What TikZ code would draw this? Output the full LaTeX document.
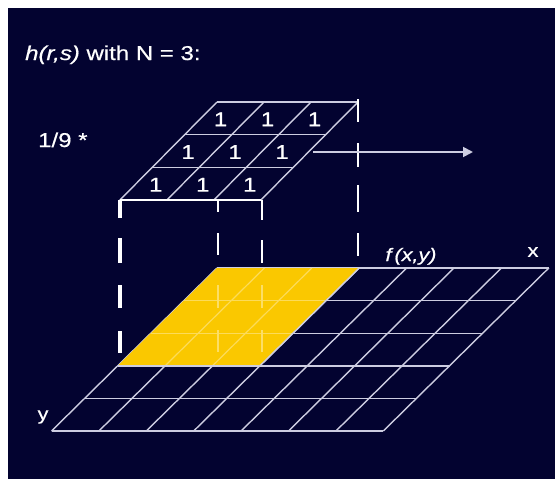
\documentclass[tikz,border=0pt]{standalone}
\usepackage{fontspec}
\setmainfont{Liberation Sans}[FakeStretch=1.2, FakeBold=0.6]
\usepackage{tikz}
\usetikzlibrary{arrows.meta, positioning}
\definecolor{slidebg}{RGB}{3,3,48}
\definecolor{gridgray}{RGB}{205,205,225}
\definecolor{maskyellow}{RGB}{250,200,0}
\begin{document}
\begin{tikzpicture}[
    x=1pt, y=-1pt,
    lbl/.style={text=white, inner sep=0pt, font=\fontsize{20}{24}\selectfont},
    onecell/.style={text=white, inner sep=0pt, font=\fontsize{20}{24}\selectfont},
    gridline/.style={draw=gridgray, line width=1.4pt},
    maskline/.style={draw=maskyellow!65!white, line width=1.2pt},
    leg/.style={draw=white, line width=2.2pt},
    faintleg/.style={draw=maskyellow!60!white, line width=2pt}
]
    \useasboundingbox (0,0) rectangle (555,479);
    \fill [white] (0,0) rectangle (555,479);
    \fill [slidebg] (8,8) rectangle (555,479);

    \begin{scope}[shift={(217,268)}, x={(47.4pt,0pt)}, y={(-33.1pt,-32.6pt)}]
        \foreach \r in {0,...,5} \draw [gridline] (0,\r) -- (7,\r);
        \foreach \c in {0,...,7} \draw [gridline] (\c,0) -- (\c,5);
        \fill [maskyellow] (0,0) -- (3,0) -- (3,3) -- (0,3) -- cycle;
        \foreach \i in {1,2} {
            \draw [maskline] (0,\i) -- (3,\i);
            \draw [maskline] (\i,0) -- (\i,3);
        }
        \draw [gridline] (3,0) -- (3,3) -- (0,3);
    \end{scope}

    \begin{scope}[shift={(217,102)}, x={(47pt,0pt)}, y={(-32.4pt,-32.7pt)}]
        \foreach \r in {0,...,2} \draw [gridline] (0,\r) -- (3,\r);
        \foreach \c in {0,...,3} \draw [gridline] (\c,0) -- (\c,3);
        \draw [leg, line width=2.6pt] (0,3) -- (3,3);
        \foreach \r in {0,...,2}
            \foreach \c in {0,...,2}
                \node [onecell] (k\r\c) at (\c+0.44,\r+0.53) {1};
    \end{scope}

    \foreach \a/\b in {200/218, 238/263, 285/308, 331/353}
        \draw [leg, line width=3.5pt] (120,\a) -- (120,\b);
    \foreach \a/\b in {200/212, 233/255}
        \draw [leg] (218,\a) -- (218,\b);
    \foreach \a/\b in {200/220, 240/263}
        \draw [leg] (262,\a) -- (262,\b);
    \foreach \a/\b in {285/308, 330/352} {
        \draw [faintleg] (218,\a) -- (218,\b);
        \draw [faintleg] (262,\a) -- (262,\b);
    }
    \foreach \a/\b in {99/122, 143/167, 185/212, 233/256}
        \draw [leg, line width=1.8pt] (358,\a) -- (358,\b);

    \coordinate (arrS) at (313,152);
    \coordinate (arrE) at (473,152);
    \draw [gridline, line width=1.8pt, -{Triangle[length=10pt, width=10pt]}] (arrS) -- (arrE);

    \node [lbl, anchor=base west] (title) at (25,60) {\textit{h(r,s)} with N = 3:};
    \node [lbl, anchor=base west] (scale) at (38,147) {1/9 *};
    \node [lbl, anchor=base, font=\fontsize{18}{22}\selectfont] (fxy) at (411,261) {\textit{f\,(x,y)}};
    \node [lbl, font=\fontsize{18}{22}\selectfont] (xlab) at (533,252) {x};
    \node [lbl, font=\fontsize{18}{22}\selectfont] (ylab) at (43,417) {y};
\end{tikzpicture}
\end{document}
